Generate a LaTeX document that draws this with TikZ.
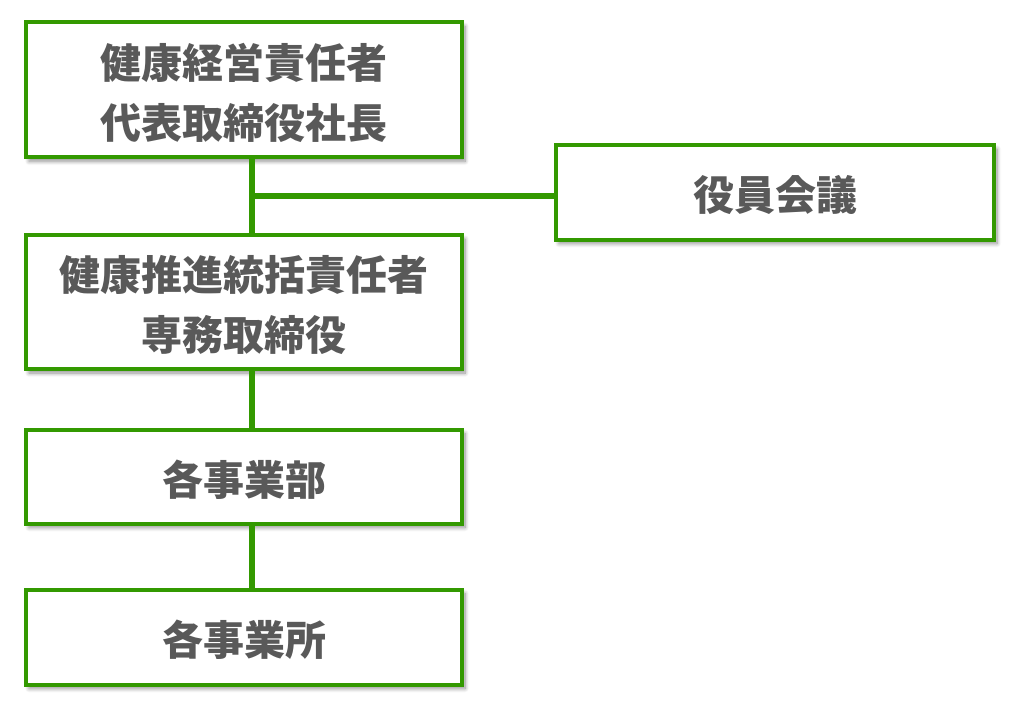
\documentclass[tikz,border=0pt]{standalone}
\usepackage{fontspec}
\newfontfamily\cjk{Noto Sans CJK JP}
\usetikzlibrary{shadows.blur}
\definecolor{boxgreen}{RGB}{51,153,0}
\definecolor{txtgray}{RGB}{89,89,89}
\tikzset{
  orgbox/.style={draw=boxgreen, line width=4pt, fill=white, minimum width=436pt,
    inner sep=0pt,
    blur shadow={shadow xshift=3pt, shadow yshift=-4pt, shadow blur radius=4pt,
      shadow blur steps=8, shadow opacity=45}},
  boxtext/.style={align=center, inner sep=0pt, text=txtgray, yshift=-3pt,
    font=\cjk\bfseries\fontsize{41pt}{60pt}\selectfont},
  link/.style={draw=boxgreen, line width=6pt}
}
\begin{document}
\begin{tikzpicture}[x=1pt,y=1pt]
\useasboundingbox (0,0) rectangle (1024,-711);
\coordinate (spine) at (252,-196);
\node[orgbox, minimum height=135pt, label={[boxtext]center:健康経営責任者\\代表取締役社長}] (ceo) at (244,-89.75) {};
\node[orgbox, minimum height=94.5pt, minimum width=438pt, label={[boxtext]center:役員会議}] (board) at (775,-192.25) {};
\node[orgbox, minimum height=134pt, label={[boxtext]center:健康推進統括責任者\\専務取締役}] (exec) at (244,-302) {};
\node[orgbox, minimum height=94pt, label={[boxtext]center:各事業部}] (div) at (244,-476.5) {};
\node[orgbox, minimum height=95pt, label={[boxtext]center:各事業所}] (site) at (244,-637) {};
\draw[link] (ceo.south -| spine) -- (exec.north -| spine);
\draw[link] (spine) -- (spine -| board.west);
\draw[link] (exec.south -| spine) -- (div.north -| spine);
\draw[link] (div.south -| spine) -- (site.north -| spine);
\end{tikzpicture}
\end{document}
